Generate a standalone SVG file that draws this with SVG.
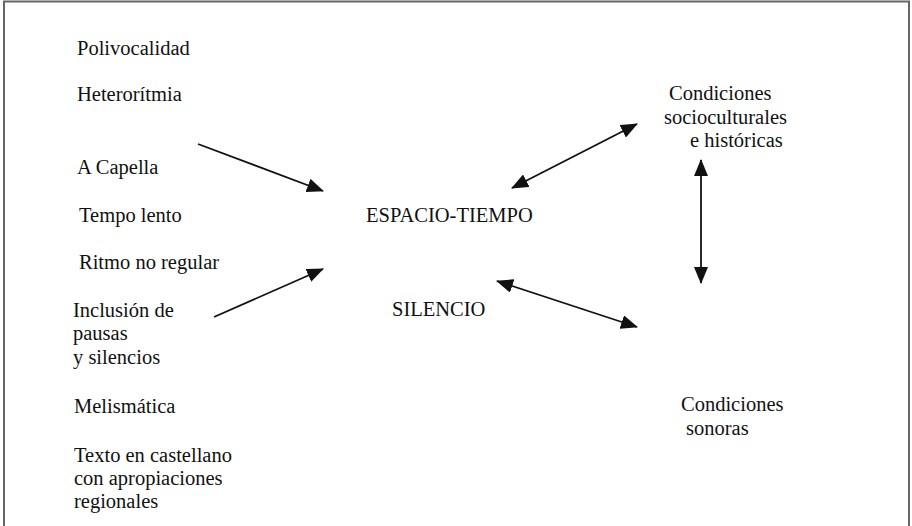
<svg xmlns="http://www.w3.org/2000/svg" width="912" height="526" viewBox="0 0 912 526">
<style>
  text { font-family: 'Liberation Serif', 'Times New Roman', Times, 'DejaVu Serif', serif; font-size: 20.5px; fill: #111; }
  .conn { stroke: #111; stroke-width: 1.8; fill: none; }
</style>
<defs>
  <marker id="ah" markerUnits="userSpaceOnUse" markerWidth="17" markerHeight="14" refX="16" refY="7" orient="auto-start-reverse" viewBox="0 0 17 14">
    <path d="M0,0 L17,7 L0,14 Z" fill="#111"/>
  </marker>
</defs>
<rect x="0" y="0" width="912" height="526" fill="#fff"/>
<path d="M4,530 L4,1.5 L909,1.5 L909,530" fill="none" stroke="#666" stroke-width="2"/>

<g id="polivocalidad"><text x="77" y="55">Polivocalidad</text></g>
<g id="heteroritmia"><text x="77" y="101">Heterorítmia</text></g>
<g id="a-capella"><text x="77" y="174">A Capella</text></g>
<g id="tempo-lento"><text x="79" y="222">Tempo lento</text></g>
<g id="ritmo"><text x="79" y="269">Ritmo no regular</text></g>
<g id="inclusion">
  <text x="73" y="317">Inclusión de</text>
  <text x="73" y="340">pausas</text>
  <text x="73" y="364">y silencios</text>
</g>
<g id="melismatica"><text x="74" y="413">Melismática</text></g>
<g id="texto">
  <text x="74" y="462">Texto en castellano</text>
  <text x="74" y="485">con apropiaciones</text>
  <text x="74" y="508">regionales</text>
</g>
<g id="espacio-tiempo"><text x="366" y="222">ESPACIO-TIEMPO</text></g>
<g id="silencio"><text x="392" y="316">SILENCIO</text></g>
<g id="cond-socio">
  <text x="669" y="100">Condiciones</text>
  <text x="664" y="124">socioculturales</text>
  <text x="690" y="147">e históricas</text>
</g>
<g id="cond-sonoras">
  <text x="681" y="411">Condiciones</text>
  <text x="686" y="435">sonoras</text>
</g>

<g id="connectors">
  <line class="conn" x1="198" y1="144" x2="323" y2="191" marker-end="url(#ah)"/>
  <line class="conn" x1="214" y1="317" x2="323" y2="269" marker-end="url(#ah)"/>
  <line class="conn" x1="512" y1="188" x2="637" y2="124" marker-start="url(#ah)" marker-end="url(#ah)"/>
  <line class="conn" x1="701" y1="160" x2="701" y2="283" marker-start="url(#ah)" marker-end="url(#ah)"/>
  <line class="conn" x1="497" y1="281" x2="637" y2="327" marker-start="url(#ah)" marker-end="url(#ah)"/>
</g>
</svg>
